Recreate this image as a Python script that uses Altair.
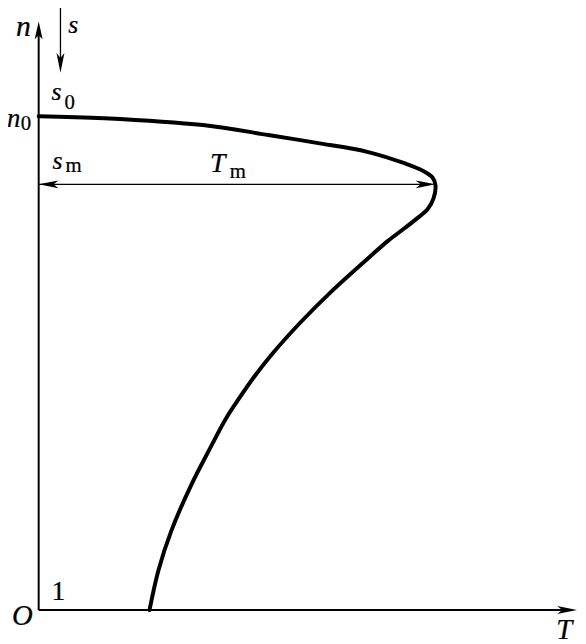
import altair as alt
import pandas as pd

# Mechanical characteristic n = f(T): torque T (in units of Tm), speed n (in units of n0)
T_curve = [0.0, 0.1646, 0.4140, 0.5786, 0.7007, 0.8279, 0.9252, 0.9676, 0.9925, 1.0,
           0.9950, 0.9800, 0.9576, 0.9227, 0.8803, 0.8429, 0.7406, 0.6584, 0.5910,
           0.5436, 0.5037, 0.4713, 0.4314, 0.3840, 0.3342, 0.3017, 0.2793]
n_curve = [1.0, 0.9960, 0.9820, 0.9619, 0.9459, 0.9279, 0.9038, 0.8898, 0.8758, 0.8597,
           0.8337, 0.8116, 0.7956, 0.7735, 0.7475, 0.7214, 0.6473, 0.5812, 0.5210,
           0.4729, 0.4269, 0.3868, 0.3267, 0.2525, 0.1603, 0.0802, 0.0]

n_m = 0.862   # speed at maximum torque (s = sm)
T_m = 1.0     # maximum torque

# label texts
italic_texts = ["n", "s", "s", "n", "s", "T", "O", "T"]
upright_texts = ["0", "0", "m", "m", "1"]

W, H = 576, 636
T_dom = [-0.0773, 1.3591]
n_dom = [-0.0621, 1.2124]
xs = alt.Scale(domain=T_dom, nice=False, zero=False)
ys = alt.Scale(domain=n_dom, nice=False, zero=False)

FONT = "Liberation Serif"

curve_df = pd.DataFrame({"T": T_curve, "n": n_curve, "i": list(range(len(T_curve)))})
curve = alt.Chart(curve_df).mark_line(
    color="black", strokeWidth=4, interpolate="catmull-rom", strokeCap="round"
).encode(
    x=alt.X("T:Q", scale=xs, axis=None),
    y=alt.Y("n:Q", scale=ys, axis=None),
    order=alt.Order("i:Q"),
)

# coordinate axes
axes_df = pd.DataFrame({
    "T": [0.0, 0.0],
    "T2": [1.33, 0.0],
    "n": [0.0, 0.0],
    "n2": [0.0, 1.17],
})
axes = alt.Chart(axes_df).mark_rule(color="black", strokeWidth=2).encode(
    x=alt.X("T:Q", scale=xs, axis=None), x2="T2:Q",
    y=alt.Y("n:Q", scale=ys, axis=None), y2="n2:Q",
)

# thin arrows: Tm double arrow, s direction arrow
thin_df = pd.DataFrame({
    "T": [0.0, 0.0549],
    "T2": [T_m - 0.03, 0.0549],
    "n": [n_m, 1.25],
    "n2": [n_m, 1.105],
})
thin = alt.Chart(thin_df).mark_rule(color="black", strokeWidth=1.3).encode(
    x=alt.X("T:Q", scale=xs, axis=None), x2="T2:Q",
    y=alt.Y("n:Q", scale=ys, axis=None), y2="n2:Q",
)

UP = "M0,0 L4,18 L0,14 L-4,18 Z"
DOWN = "M0,0 L-4,-20 L0,-15 L4,-20 Z"
RIGHT = "M0,0 L-20,-4 L-15,0 L-20,4 Z"
LEFT = "M0,0 L20,-4 L15,0 L20,4 Z"

def head(T, n, shape):
    df = pd.DataFrame({"T": [T], "n": [n]})
    return alt.Chart(df).mark_point(
        shape=shape, size=4, filled=True, color="black", opacity=1, strokeWidth=0
    ).encode(
        x=alt.X("T:Q", scale=xs, axis=None),
        y=alt.Y("n:Q", scale=ys, axis=None),
    )

heads = [
    head(0.0, 1.192, UP),
    head(1.3566, 0.0, RIGHT),
    head(T_m, n_m, RIGHT),
    head(0.0, n_m, LEFT),
    head(0.0549, 1.088, DOWN),
]

it_df = pd.DataFrame({
    "t": italic_texts,
    "px": [8, 61, 44, -1, 45, 204, 4, 554],
    "py": [25, 22, 90, 117, 159, 162, 620, 634],
    "fs": [30, 26, 26, 27, 26, 28, 29, 29],
})
up_df = pd.DataFrame({
    "t": upright_texts,
    "px": [57, 13, 58, 224, 44],
    "py": [99, 120, 162, 168, 595],
    "fs": [21, 21, 21, 21, 28],
})

def text_layer(df, style):
    return alt.Chart(df).mark_text(
        font=FONT, fontStyle=style, align="left", baseline="alphabetic",
        color="black", stroke="black", strokeWidth=0.25
    ).encode(
        x=alt.X("px:Q", scale=None, axis=None),
        y=alt.Y("py:Q", scale=None, axis=None),
        text="t:N",
        size=alt.Size("fs:Q", scale=None, legend=None),
    )

chart = alt.layer(
    axes, thin, curve, *heads, text_layer(it_df, "italic"), text_layer(up_df, "normal")
).properties(
    width=W, height=H, padding=0, autosize=alt.AutoSizeParams(type="none")
).configure_view(stroke=None)

chart.save("out.html", embed_options={"renderer": "svg", "actions": False})
